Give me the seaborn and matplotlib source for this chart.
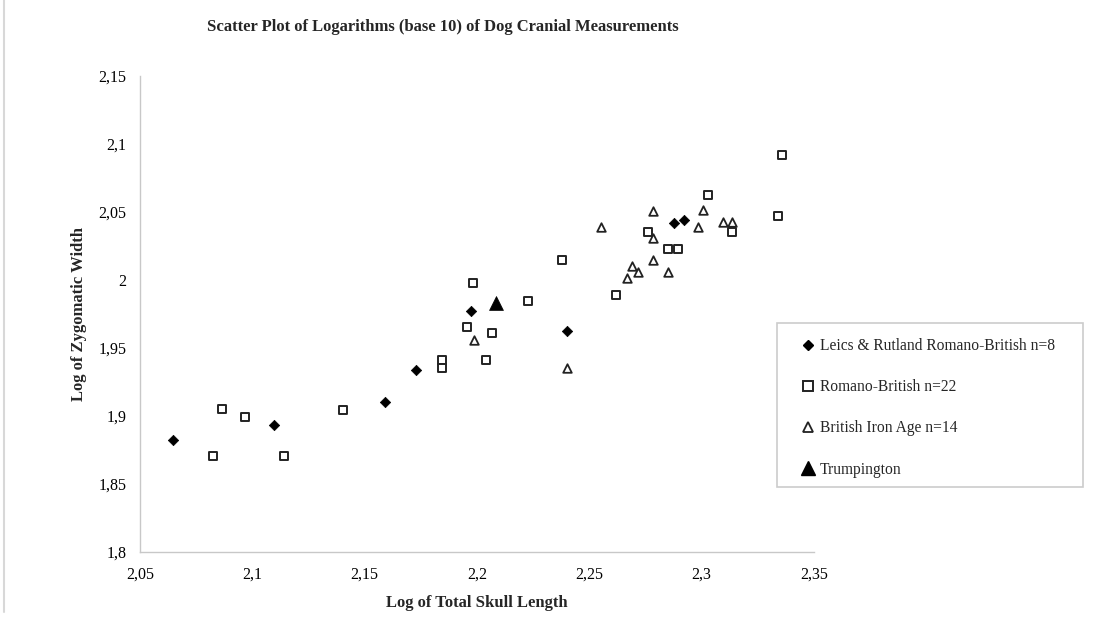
import matplotlib
matplotlib.use("Agg")
import matplotlib.pyplot as plt
import seaborn as sns
import pandas as pd
from matplotlib.lines import Line2D
from matplotlib.patches import Rectangle

# ---- data ----
leics_x = [2.0645, 2.1095, 2.1592, 2.1730, 2.1974, 2.2402, 2.2877, 2.2922]
leics_y = [1.8824, 1.8931, 1.9099, 1.9333, 1.9771, 1.9623, 2.0414, 2.0436]

rb_x = [2.0827, 2.0865, 2.0966, 2.1140, 2.1405, 2.1846, 2.1846, 2.1957, 2.1984,
        2.2038, 2.2065, 2.2225, 2.2378, 2.2621, 2.2762, 2.2852, 2.2897, 2.3028,
        2.3136, 2.3341, 2.3360]
rb_y = [1.8702, 1.9048, 1.8987, 1.8702, 1.9044, 1.9411, 1.9353, 1.9654, 1.9974,
        1.9409, 1.9608, 1.9842, 2.0147, 1.9885, 2.0351, 2.0229, 2.0229, 2.0620,
        2.0351, 2.0469, 2.0915]

ia_x = [2.1986, 2.2402, 2.2550, 2.2668, 2.2689, 2.2715, 2.2785, 2.2785, 2.2785,
        2.2852, 2.2984, 2.3007, 2.3093, 2.3135]
ia_y = [1.9553, 1.9353, 2.0386, 2.0015, 2.0098, 2.0054, 2.0507, 2.0307, 2.0146,
        2.0057, 2.0387, 2.0509, 2.0424, 2.0424]

trump_x = [2.2086]
trump_y = [1.9829]

labels = ["Leics & Rutland Romano-British n=8", "Romano-British n=22",
          "British Iron Age n=14", "Trumpington"]

x_ticks = [2.05, 2.10, 2.15, 2.20, 2.25, 2.30, 2.35]
x_tick_labels = ["2,05", "2,1", "2,15", "2,2", "2,25", "2,3", "2,35"]
y_ticks = [1.80, 1.85, 1.90, 1.95, 2.00, 2.05, 2.10, 2.15]
y_tick_labels = ["1,8", "1,85", "1,9", "1,95", "2", "2,05", "2,1", "2,15"]

title = "Scatter Plot of Logarithms (base 10) of Dog Cranial Measurements"
x_label = "Log of Total Skull Length"
y_label = "Log of Zygomatic Width"

# ---- plotting ----
sns.set_style("white")
plt.rcParams["font.family"] = ["Liberation Serif", "DejaVu Serif"]

fig = plt.figure(figsize=(10.94, 6.18), dpi=100)
ax = fig.add_axes([0.128, 0.1073, 0.616, 0.7702])

df_leics = pd.DataFrame({"x": leics_x, "y": leics_y})
df_rb = pd.DataFrame({"x": rb_x, "y": rb_y})
df_ia = pd.DataFrame({"x": ia_x, "y": ia_y})
df_tr = pd.DataFrame({"x": trump_x, "y": trump_y})

sns.scatterplot(data=df_rb, x="x", y="y", ax=ax, marker="s", s=40,
                facecolor="white", edgecolor="#222222", linewidth=1.4,
                label=labels[1], legend=False, zorder=3)
sns.scatterplot(data=df_ia, x="x", y="y", ax=ax, marker="^", s=38,
                facecolor="white", edgecolor="#222222", linewidth=1.3,
                label=labels[2], legend=False, zorder=3)
sns.scatterplot(data=df_leics, x="x", y="y", ax=ax, marker="D", s=28,
                color="black", edgecolor="black", linewidth=0.5,
                label=labels[0], legend=False, zorder=4)
sns.scatterplot(data=df_tr, x="x", y="y", ax=ax, marker="^", s=100,
                color="black", edgecolor="black", linewidth=0.5,
                label=labels[3], legend=False, zorder=4)

ax.set_xlim(x_ticks[0], x_ticks[-1])
ax.set_ylim(y_ticks[0], y_ticks[-1])
ax.set_xticks(x_ticks, x_tick_labels)
ax.set_yticks(y_ticks, y_tick_labels)
ax.tick_params(axis="both", labelsize=11.5, colors="#c8c8c8", labelcolor="black",
               direction="out", length=4, width=1)
ax.tick_params(axis="x", pad=7)
ax.tick_params(axis="y", pad=6)

for side in ["top", "right"]:
    ax.spines[side].set_visible(False)
for side in ["left", "bottom"]:
    ax.spines[side].set_color("#c8c8c8")
    ax.spines[side].set_linewidth(1.0)
ax.grid(False)

ax.set_xlabel(x_label, fontsize=12, fontweight="bold")
ax.set_ylabel(y_label, fontsize=12, fontweight="bold")
ax.xaxis.set_label_coords(0.5, -0.092)
ax.yaxis.set_label_coords(-0.0786, 0.5)

fig.text(0.405, 0.956, title, fontsize=12, fontweight="bold", ha="center", va="center")

# legend box
fig.patches.append(Rectangle((777 / 1094, 1 - 487 / 618), (1083 - 777) / 1094, (487 - 323) / 618,
                             transform=fig.transFigure, facecolor="white",
                             edgecolor="#cccccc", linewidth=1.2, zorder=0))
handles = [
    Line2D([], [], linestyle="none", marker="D", markersize=5.2, color="black"),
    Line2D([], [], linestyle="none", marker="s", markersize=6.6, markerfacecolor="white",
           markeredgecolor="#222222", markeredgewidth=1.4),
    Line2D([], [], linestyle="none", marker="^", markersize=6.6, markerfacecolor="white",
           markeredgecolor="#222222", markeredgewidth=1.3),
    Line2D([], [], linestyle="none", marker="^", markersize=9.8, color="black"),
]
leg = fig.legend(handles, labels, loc="upper left", bbox_to_anchor=(0.733, 1 - 338 / 618),
                 bbox_transform=fig.transFigure, frameon=False, fontsize=11.2,
                 handlelength=0.8, handletextpad=0.35, labelspacing=1.62,
                 borderpad=0, borderaxespad=0)

# left border line of the image
fig.add_artist(Line2D([4 / 1094, 4 / 1094], [0.01, 1.0], transform=fig.transFigure,
                      color="#d8d8d8", linewidth=1.5))

fig.savefig("out.png", dpi=100)
